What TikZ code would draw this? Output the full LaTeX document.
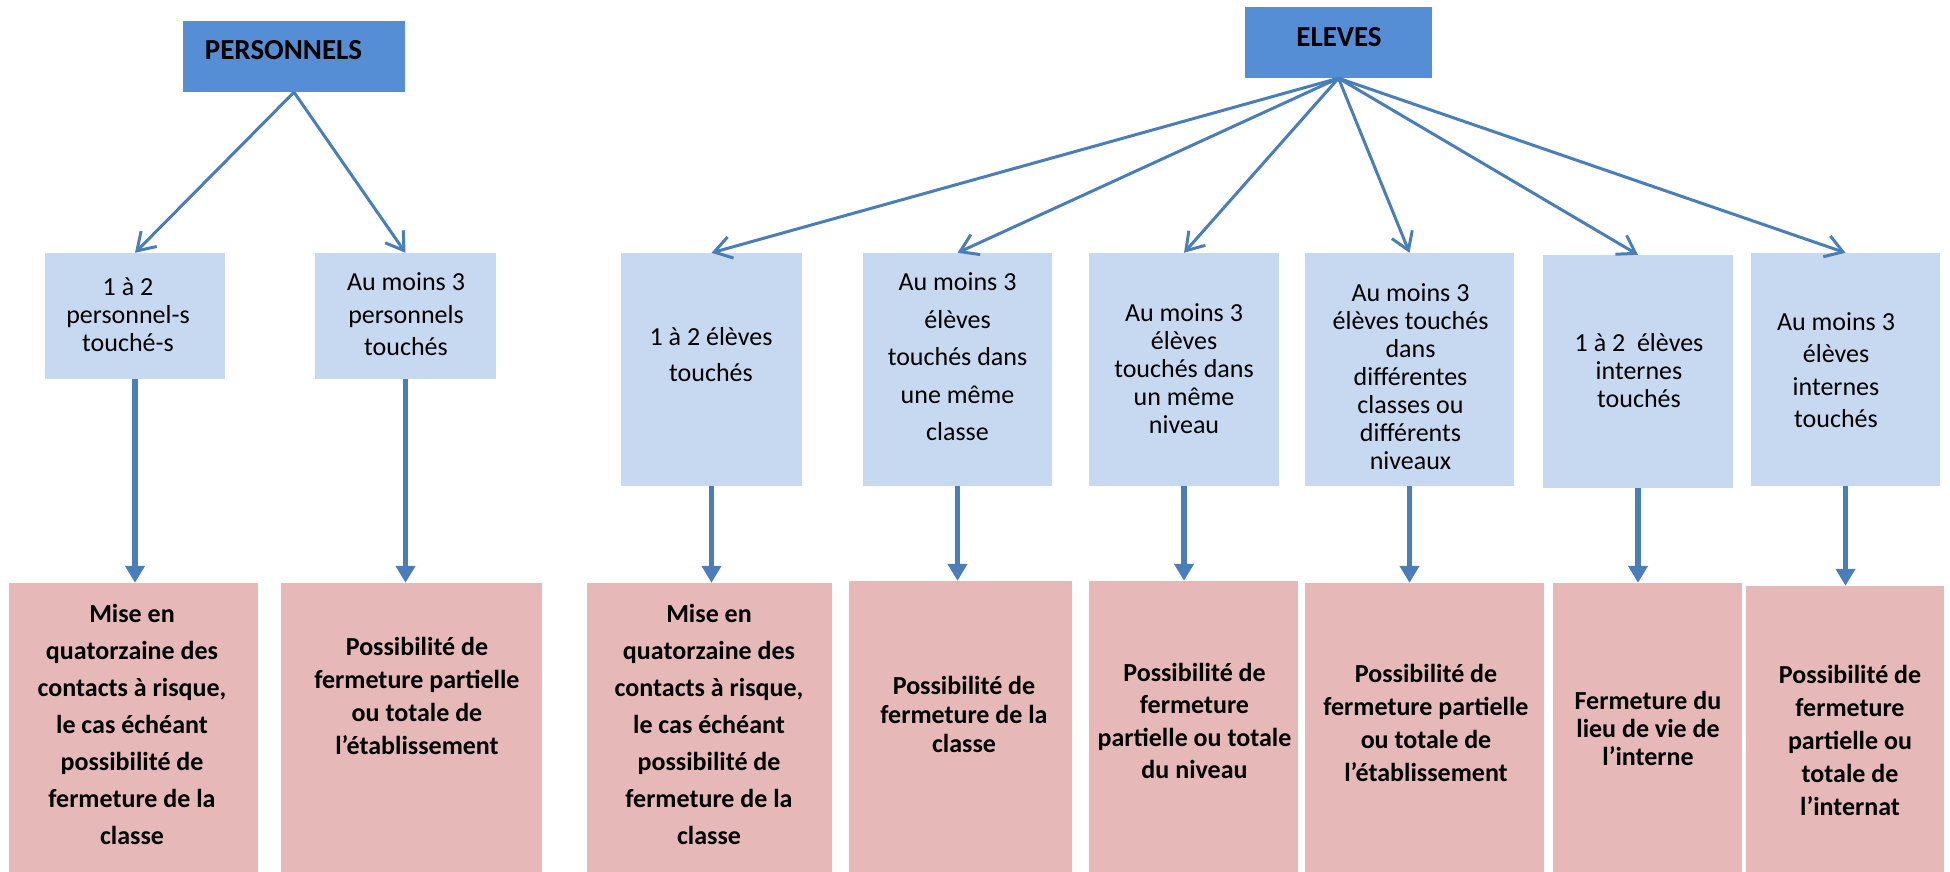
\documentclass[tikz,border=0pt]{standalone}
\usepackage{fontspec}
\setmainfont{Carlito}
\usetikzlibrary{arrows.meta}
\definecolor{topblue}{HTML}{558ED5}
\definecolor{caseblue}{HTML}{C6D9F1}
\definecolor{actred}{HTML}{E6B9B8}
\definecolor{lineblue}{HTML}{4A7EBB}
\tikzset{
  topbox/.style={fill=topblue, inner sep=0pt, minimum height=71pt},
  casebox/.style={fill=caseblue, inner sep=0pt},
  actbox/.style={fill=actred, inner sep=0pt},
  toptxt/.style={font=\bfseries\fontsize{29}{35}\selectfont, inner sep=0pt},
  casetxt/.style={align=center, font=\fontsize{26}{#1}\selectfont, inner sep=0pt},
  casetxt/.default=28,
  acttxt/.style={align=center, font=\bfseries\fontsize{26}{#1}\selectfont, inner sep=0pt},
  acttxt/.default=33,
  fork/.style={draw=lineblue, line width=3pt, -{Straight Barb[length=17pt,width=22pt]}},
  drop/.style={draw=lineblue, line width=5.5pt, -{Triangle[length=17pt,width=19pt]}},
}
\begin{document}
\begin{tikzpicture}[x=1pt,y=-1pt]
        \useasboundingbox (0,0) rectangle (1950,872);

        % Nodes
        \node at (294,56.5) [topbox, minimum width=222pt] (pers) {};
        \node at (283.5,50) [toptxt] (perstxt) {PERSONNELS};
        \node at (1338.5,42.5) [topbox, minimum width=187pt] (eleves) {};
        \node at (1339,37) [toptxt] (elevestxt) {ELEVES};

        \node at (135,316) [casebox, minimum width=180pt, minimum height=126pt] (p1) {};
        \node at (405.5,316) [casebox, minimum width=181pt, minimum height=126pt] (p2) {};
        \node at (711.5,369.5) [casebox, minimum width=181pt, minimum height=233pt] (e1) {};
        \node at (957.5,369.5) [casebox, minimum width=189pt, minimum height=233pt] (e2) {};
        \node at (1184,369.5) [casebox, minimum width=190pt, minimum height=233pt] (e3) {};
        \node at (1409.5,369.5) [casebox, minimum width=209pt, minimum height=233pt] (e4) {};
        \node at (1638,371.5) [casebox, minimum width=190pt, minimum height=233pt] (e5) {};
        \node at (1845.5,369.5) [casebox, minimum width=189pt, minimum height=233pt] (e6) {};

        \node at (128,315) [casetxt] (p1txt) {1 à 2\\personnel-s\\touché-s};
        \node at (406,314.5) [casetxt=32.5] (p2txt) {Au moins 3\\personnels\\touchés};
        \node at (711,355) [casetxt=36] (e1txt) {1 à 2 élèves\\touchés};
        \node at (957.5,357) [casetxt=37.5] (e2txt) {Au moins 3\\élèves\\touchés dans\\une même\\classe};
        \node at (1184,369) [casetxt] (e3txt) {Au moins 3\\élèves\\touchés dans\\un même\\niveau};
        \node at (1410.5,377) [casetxt] (e4txt) {Au moins 3\\élèves touchés\\dans\\différentes\\classes ou\\différents\\niveaux};
        \node at (1639,371) [casetxt] (e5txt) {1 à 2 \ élèves\\internes\\touchés};
        \node at (1836,370) [casetxt=32.5] (e6txt) {Au moins 3\\élèves\\internes\\touchés};

        \node at (133.5,727.5) [actbox, minimum width=249pt, minimum height=289pt] (r1) {};
        \node at (411.5,727.5) [actbox, minimum width=261pt, minimum height=289pt] (r2) {};
        \node at (709.5,727.5) [actbox, minimum width=245pt, minimum height=289pt] (r3) {};
        \node at (960.5,726.5) [actbox, minimum width=223pt, minimum height=291pt] (r4) {};
        \node at (1193.5,726.5) [actbox, minimum width=209pt, minimum height=291pt] (r5) {};
        \node at (1424.5,727.5) [actbox, minimum width=239pt, minimum height=289pt] (r6) {};
        \node at (1647.5,727.5) [actbox, minimum width=189pt, minimum height=289pt] (r7) {};
        \node at (1845,729) [actbox, minimum width=198pt, minimum height=286pt] (r8) {};

        \node at (132,724) [acttxt=37] (r1txt) {Mise en\\quatorzaine des\\contacts à risque,\\le cas échéant\\possibilité de\\fermeture de la\\classe};
        \node at (417,696) [acttxt] (r2txt) {Possibilité de\\fermeture partielle\\ou totale de\\l’établissement};
        \node at (709,724) [acttxt=37] (r3txt) {Mise en\\quatorzaine des\\contacts à risque,\\le cas échéant\\possibilité de\\fermeture de la\\classe};
        \node at (964,714) [acttxt=29] (r4txt) {Possibilité de\\fermeture de la\\classe};
        \node at (1194.5,721) [acttxt=32.5] (r5txt) {Possibilité de\\fermeture\\partielle ou totale\\du niveau};
        \node at (1426,723) [acttxt] (r6txt) {Possibilité de\\fermeture partielle\\ou totale de\\l’établissement};
        \node at (1648,728) [acttxt=28] (r7txt) {Fermeture du\\lieu de vie de\\l’interne};
        \node at (1850,740) [acttxt] (r8txt) {Possibilité de\\fermeture\\partielle ou\\totale de\\l’internat};

        % Arrows
        \draw[fork] (pers.south) -- (p1.north);
        \draw[fork] (pers.south) -- (p2.north);
        \foreach \n in {e1,e2,e3,e4,e5,e6}
            \draw[fork] (eleves.south) -- (\n.north);

        \foreach \a/\b in {p1/r1,p2/r2,e1/r3,e2/r4,e3/r5,e4/r6,e5/r7,e6/r8}
            \draw[drop] (\a.south) -- (\a.south |- \b.north);

    \end{tikzpicture}
\end{document}
